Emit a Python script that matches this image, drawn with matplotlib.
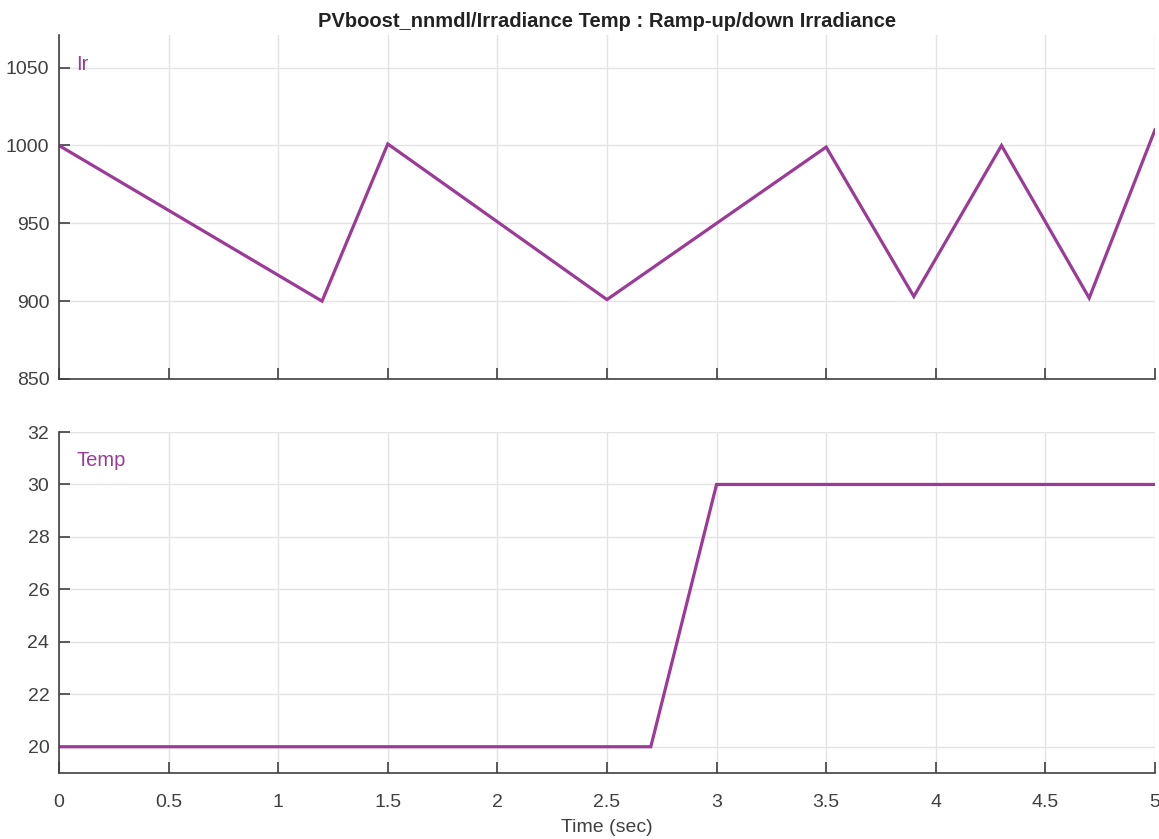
import numpy as np
import matplotlib.pyplot as plt

# Irradiance ramp points
ir_time = [0, 1.2, 1.5, 2.5, 3.5, 3.9, 4.3, 4.7, 5.0]
ir_value = [1000, 900, 1001, 901, 999, 903, 1000, 902, 1010]

# Temperature ramp points
temp_time = [0, 2.7, 3.0, 5.0]
temp_value = [20, 20, 30, 30]

x_ticks = [0, 0.5, 1, 1.5, 2, 2.5, 3, 3.5, 4, 4.5, 5]
x_labels = ['0', '0.5', '1', '1.5', '2', '2.5', '3', '3.5', '4', '4.5', '5']

line_color = '#9C3A98'
axis_color = '#404040'

plt.rcParams['font.family'] = ['Liberation Sans', 'DejaVu Sans']

fig = plt.figure(figsize=(11.59, 8.39), dpi=100)
ax1 = fig.add_axes([0.0509, 0.5483, 0.9456, 0.4100])
ax2 = fig.add_axes([0.0509, 0.0787, 0.9456, 0.4064])

for ax in (ax1, ax2):
    for side in ('top', 'right'):
        ax.spines[side].set_visible(False)
    for side in ('left', 'bottom'):
        ax.spines[side].set_color(axis_color)
        ax.spines[side].set_linewidth(1.2)
    ax.tick_params(direction='in', length=8, width=1.2, colors=axis_color,
                   labelsize=14, labelcolor='#404040')
    ax.tick_params(axis='x', pad=15)
    ax.tick_params(axis='y', pad=7)
    ax.grid(True, color='#e3e3e3', linewidth=1)
    ax.set_axisbelow(True)
    ax.set_xlim(0, 5)
    ax.set_xticks(x_ticks)

ax1.plot(ir_time, ir_value, color=line_color, lw=2.3, solid_joinstyle='miter')
ax1.set_ylim(850, 1071)
ax1.set_yticks([850, 900, 950, 1000, 1050])
ax1.set_xticklabels([])
ax1.text(0.016, 0.915, 'Ir', transform=ax1.transAxes, color=line_color,
         fontsize=14.5, va='center', ha='left')
ax1.set_title('PVboost_nnmdl/Irradiance Temp : Ramp-up/down Irradiance',
              fontsize=14.5, fontweight='bold', color='#222222', pad=6)

ax2.plot(temp_time, temp_value, color=line_color, lw=2.3, solid_joinstyle='miter')
ax2.set_ylim(19, 32)
ax2.set_yticks([20, 22, 24, 26, 28, 30, 32])
ax2.set_xticklabels(x_labels)
ax2.text(0.016, 0.915, 'Temp', transform=ax2.transAxes, color=line_color,
         fontsize=14.5, va='center', ha='left')
ax2.set_xlabel('Time (sec)', fontsize=14, color='#404040', labelpad=6)

fig.savefig('out.png', dpi=100)
